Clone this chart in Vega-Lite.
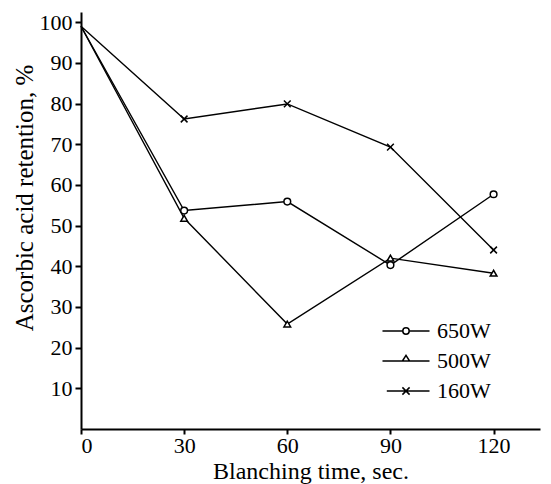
{
  "$schema": "https://vega.github.io/schema/vega-lite/v6.json",
  "width": 459,
  "height": 417,
  "autosize": {"type": "none"},
  "padding": {"left": 81, "top": 12, "right": 11, "bottom": 55},
  "background": "white",
  "config": {
    "view": {"stroke": null},
    "font": "Liberation Serif",
    "axis": {
      "domainColor": "black",
      "domainWidth": 2,
      "tickColor": "black",
      "tickWidth": 2,
      "grid": false,
      "labelColor": "black",
      "labelFont": "Liberation Serif",
      "labelFontSize": 22,
      "titleColor": "black",
      "titleFont": "Liberation Serif",
      "titleFontSize": 25,
      "titleFontWeight": "normal"
    }
  },
  "data": {
    "values": [
      {"time": 0, "retention": 99, "power": "650W"},
      {"time": 30, "retention": 53.7, "power": "650W"},
      {"time": 60, "retention": 55.9, "power": "650W"},
      {"time": 90, "retention": 40.3, "power": "650W"},
      {"time": 120, "retention": 57.7, "power": "650W"},
      {"time": 0, "retention": 99, "power": "500W"},
      {"time": 30, "retention": 51.8, "power": "500W"},
      {"time": 60, "retention": 25.8, "power": "500W"},
      {"time": 90, "retention": 42, "power": "500W"},
      {"time": 120, "retention": 38.3, "power": "500W"},
      {"time": 0, "retention": 99, "power": "160W"},
      {"time": 30, "retention": 76.2, "power": "160W"},
      {"time": 60, "retention": 79.9, "power": "160W"},
      {"time": 90, "retention": 69.3, "power": "160W"},
      {"time": 120, "retention": 44, "power": "160W"}
    ]
  },
  "encoding": {
    "x": {
      "field": "time",
      "type": "quantitative",
      "scale": {"domain": [0, 133.5], "nice": false, "zero": false},
      "axis": {
        "values": [0, 30, 60, 90, 120],
        "tickSize": 5,
        "labelPadding": 1,
        "title": "Blanching time, sec.",
        "titleFontSize": 24,
        "titleBaseline": "alphabetic",
        "titleY": 49
      }
    },
    "y": {
      "field": "retention",
      "type": "quantitative",
      "scale": {"domain": [0, 102.5], "nice": false},
      "axis": {
        "values": [10, 20, 30, 40, 50, 60, 70, 80, 90, 100],
        "tickSize": 6,
        "labelPadding": 3,
        "title": "Ascorbic acid retention, %",
        "titleBaseline": "alphabetic",
        "titleX": -49,
        "titleY": 185.5
      }
    }
  },
  "resolve": {"scale": {"shape": "independent"}, "legend": {"shape": "independent"}},
  "layer": [
    {
      "mark": {"type": "line", "color": "black", "strokeWidth": 1.4},
      "encoding": {"detail": {"field": "power", "type": "nominal"}}
    },
    {
      "transform": [{"filter": "datum.time > 0"}],
      "mark": {"type": "point", "filled": true, "fill": "white", "stroke": "black", "strokeWidth": 1.5, "size": 45, "opacity": 1},
      "encoding": {
        "shape": {
          "field": "power",
          "type": "nominal",
          "scale": {
            "domain": ["650W", "500W", "160W"],
            "range": ["circle", "triangle-up", "M-1,-1L1,1M-1,1L1,-1"]
          },
          "legend": null
        }
      }
    },
    {
      "transform": [{"filter": "datum.time < 0"}],
      "mark": {"type": "point", "filled": true, "fill": "white", "stroke": "black", "strokeWidth": 1.5, "size": 256, "opacity": 1},
      "encoding": {
        "shape": {
          "field": "power",
          "type": "nominal",
          "scale": {
            "domain": ["650W", "500W", "160W"],
            "range": [
              "M-2.94,0L-0.4,0M0.4,0L2.94,0M-0.4,0A0.4,0.4,0,1,1,0.4,0A0.4,0.4,0,1,1,-0.4,0",
              "M-2.94,0L2.94,0M-0.45,0L0,-0.7L0.45,0Z",
              "M-2.4,0L2.94,0M-0.45,-0.45L0.45,0.45M-0.45,0.45L0.45,-0.45"
            ]
          },
          "legend": {
            "title": null,
            "orient": "none",
            "legendX": 314,
            "legendY": 308,
            "padding": 0,
            "rowPadding": 8,
            "symbolSize": 256,
            "labelOffset": 20,
            "labelFontSize": 22,
            "labelFont": "Liberation Serif",
            "labelColor": "black"
          }
        }
      }
    }
  ]
}
